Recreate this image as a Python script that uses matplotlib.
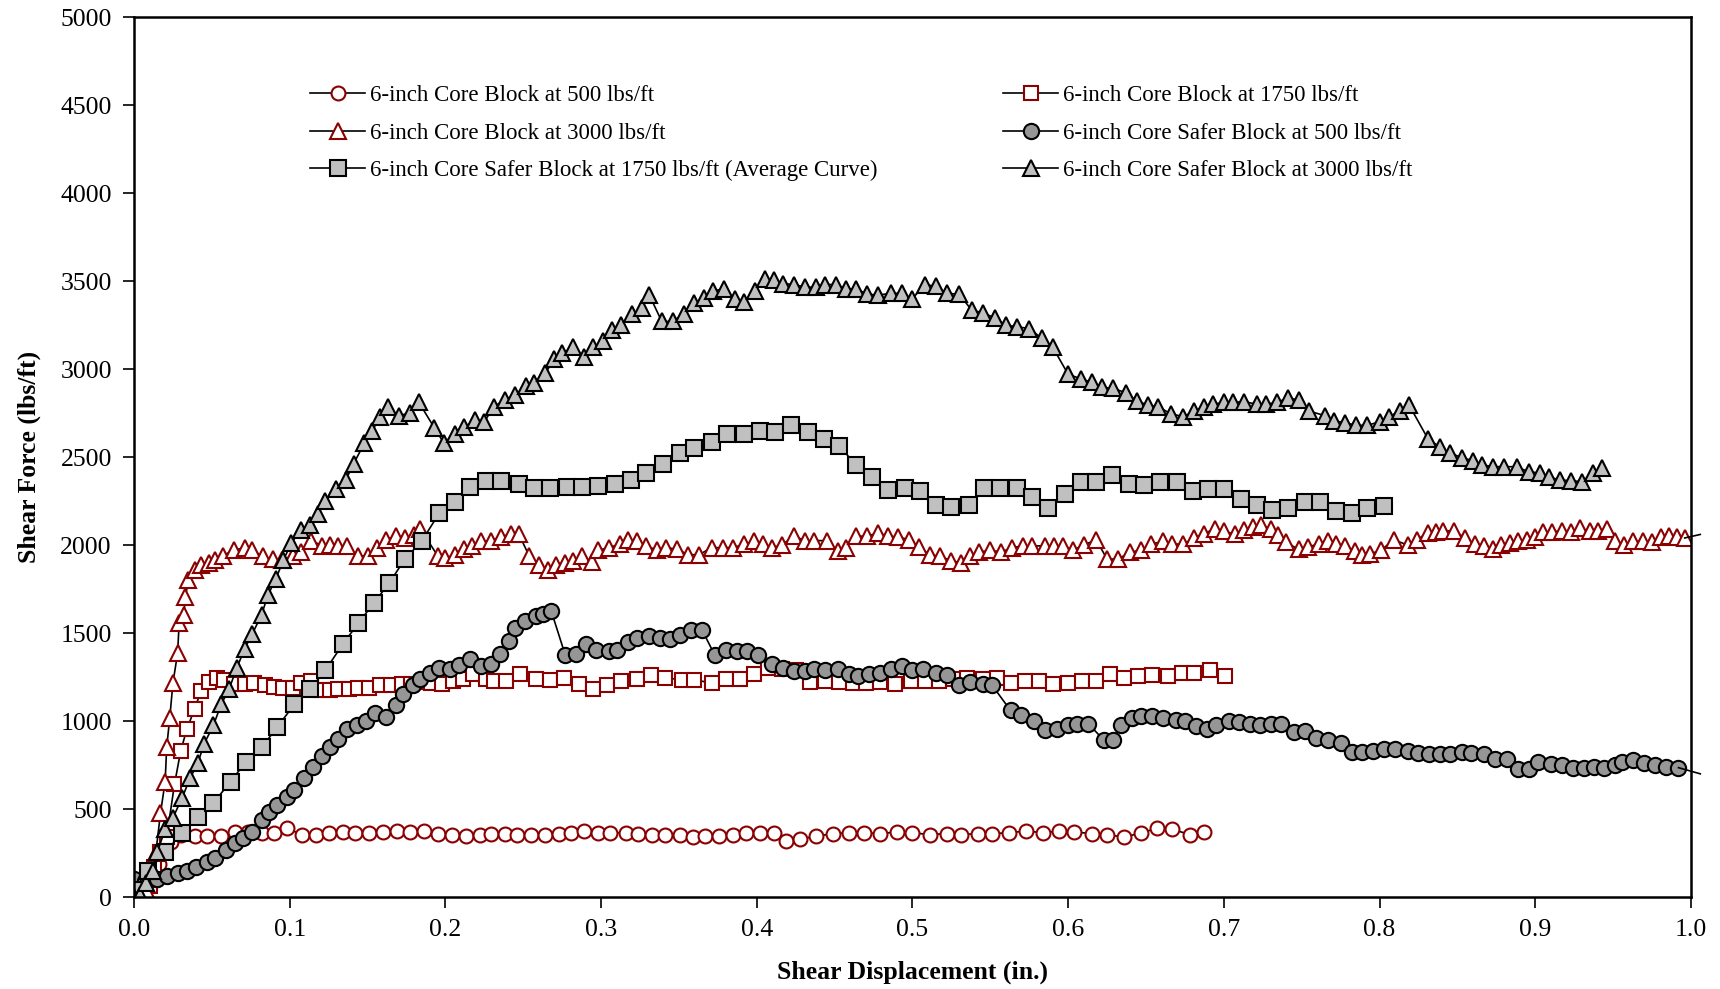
import matplotlib
matplotlib.use('Agg')
import matplotlib.pyplot as plt

plt.rcParams['font.family'] = ['Liberation Serif', 'DejaVu Serif']
plt.rcParams['font.size'] = 16.5

# 6-inch Core Block at 500 lbs/ft
core500_x = [0.000, 0.004, 0.008, 0.012, 0.016, 0.020, 0.024, 0.030, 0.039, 0.047, 0.056, 0.065, 0.073, 0.082,
             0.090, 0.098, 0.108, 0.117, 0.125, 0.134, 0.142, 0.151, 0.160, 0.169, 0.177, 0.186, 0.195, 0.204,
             0.213, 0.222, 0.229, 0.238, 0.246, 0.255, 0.264, 0.273, 0.281, 0.289, 0.298, 0.306, 0.316, 0.324,
             0.333, 0.341, 0.351, 0.359, 0.367, 0.376, 0.385, 0.393, 0.402, 0.411, 0.419, 0.428, 0.438, 0.449,
             0.459, 0.469, 0.479, 0.490, 0.500, 0.511, 0.522, 0.531, 0.542, 0.551, 0.562, 0.573, 0.584, 0.594,
             0.604, 0.615, 0.625, 0.636, 0.647, 0.657, 0.667, 0.678, 0.687]
core500_y = [0, 15, 50, 110, 190, 260, 310, 350, 345, 345, 345, 370, 370, 365,
             365, 390, 355, 355, 365, 370, 365, 365, 370, 375, 370, 375, 360, 355,
             345, 355, 360, 360, 355, 355, 355, 360, 365, 375, 365, 365, 365, 360,
             355, 355, 355, 340, 345, 345, 355, 365, 365, 365, 320, 330, 345, 360,
             365, 365, 360, 370, 365, 355, 360, 355, 360, 360, 365, 375, 365, 375,
             370, 360, 355, 340, 365, 390, 385, 355, 370]

# 6-inch Core Block at 1750 lbs/ft
core1750_x = [0.000, 0.005, 0.010, 0.013, 0.017, 0.021, 0.026, 0.030, 0.034, 0.039, 0.043, 0.048, 0.053, 0.058,
              0.064, 0.071, 0.077, 0.084, 0.090, 0.096, 0.102, 0.107, 0.114, 0.120, 0.126, 0.131, 0.138, 0.144,
              0.151, 0.158, 0.165, 0.172, 0.178, 0.185, 0.191, 0.198, 0.205, 0.211, 0.218, 0.226, 0.231, 0.239,
              0.248, 0.258, 0.267, 0.276, 0.286, 0.295, 0.304, 0.313, 0.323, 0.332, 0.341, 0.352, 0.360, 0.371,
              0.380, 0.389, 0.398, 0.407, 0.416, 0.425, 0.434, 0.444, 0.453, 0.462, 0.470, 0.479, 0.489, 0.499,
              0.508, 0.517, 0.526, 0.535, 0.545, 0.554, 0.563, 0.572, 0.581, 0.590, 0.600, 0.609, 0.618, 0.627,
              0.636, 0.645, 0.654, 0.664, 0.673, 0.681, 0.691, 0.701]
core1750_y = [0, 20, 60, 170, 255, 340, 640, 830, 955, 1070, 1170, 1220, 1245, 1235,
              1210, 1210, 1215, 1205, 1195, 1185, 1185, 1215, 1230, 1175, 1175, 1180, 1180, 1190,
              1190, 1205, 1205, 1210, 1210, 1220, 1215, 1210, 1230, 1240, 1265, 1240, 1230, 1230,
              1265, 1240, 1235, 1245, 1210, 1180, 1205, 1230, 1240, 1260, 1245, 1235, 1235, 1215,
              1240, 1240, 1265, 1300, 1295, 1290, 1220, 1230, 1220, 1215, 1215, 1220, 1210, 1230,
              1230, 1230, 1240, 1245, 1240, 1245, 1215, 1230, 1230, 1210, 1215, 1230, 1230, 1265,
              1245, 1255, 1260, 1255, 1270, 1275, 1290, 1255]

# 6-inch Core Block at 3000 lbs/ft
core3000_x = [0.000, 0.004, 0.008, 0.011, 0.014, 0.017, 0.020, 0.021, 0.023, 0.025, 0.028, 0.029, 0.032, 0.033,
              0.035, 0.039, 0.043, 0.048, 0.052, 0.057, 0.064, 0.071, 0.076, 0.083, 0.089, 0.095, 0.102, 0.107,
              0.114, 0.121, 0.126, 0.131, 0.137, 0.144, 0.150, 0.156, 0.162, 0.168, 0.174, 0.180, 0.184, 0.195,
              0.200, 0.206, 0.212, 0.217, 0.223, 0.229, 0.236, 0.242, 0.247, 0.254, 0.260, 0.266, 0.271, 0.277,
              0.282, 0.288, 0.294, 0.298, 0.305, 0.312, 0.317, 0.323, 0.329, 0.336, 0.342, 0.349, 0.356, 0.363,
              0.371, 0.378, 0.385, 0.392, 0.398, 0.404, 0.410, 0.416, 0.424, 0.431, 0.437, 0.445, 0.452, 0.457,
              0.464, 0.471, 0.478, 0.484, 0.491, 0.498, 0.504, 0.511, 0.518, 0.525, 0.531, 0.537, 0.543, 0.550,
              0.557, 0.564, 0.571, 0.577, 0.585, 0.591, 0.597, 0.603, 0.610, 0.618, 0.625, 0.632, 0.640, 0.647,
              0.653, 0.661, 0.667, 0.674, 0.681, 0.687, 0.694, 0.700, 0.707, 0.713, 0.719, 0.724, 0.730, 0.735,
              0.740, 0.748, 0.754, 0.761, 0.767, 0.772, 0.778, 0.784, 0.789, 0.794, 0.801, 0.809, 0.818, 0.824,
              0.831, 0.836, 0.841, 0.848, 0.855, 0.861, 0.867, 0.873, 0.878, 0.884, 0.889, 0.895, 0.900, 0.905,
              0.911, 0.917, 0.923, 0.929, 0.935, 0.940, 0.946, 0.951, 0.957, 0.963, 0.969, 0.975, 0.981, 0.986,
              0.991, 0.996]
core3000_y = [0, 15, 40, 100, 250, 475, 655, 850, 1020, 1215, 1385, 1555, 1605, 1705,
              1800, 1860, 1885, 1900, 1915, 1940, 1970, 1985, 1970, 1935, 1920, 1915, 1940, 1960,
              2025, 1995, 2000, 1995, 1995, 1935, 1940, 1985, 2030, 2050, 2040, 2055, 2090, 1940,
              1925, 1945, 1975, 1995, 2020, 2025, 2045, 2065, 2065, 1935, 1885, 1860, 1885, 1900,
              1910, 1935, 1905, 1970, 1985, 2005, 2030, 2020, 1995, 1970, 1985, 1975, 1945, 1945,
              1985, 1985, 1985, 2005, 2020, 2005, 1985, 2000, 2050, 2025, 2025, 2025, 1965, 1985,
              2050, 2050, 2070, 2050, 2045, 2030, 1990, 1945, 1935, 1910, 1900, 1935, 1960, 1970,
              1960, 1985, 1995, 1995, 1995, 1995, 1995, 1970, 2000, 2030, 1920, 1920, 1960, 1970,
              2005, 2020, 2005, 2005, 2040, 2065, 2090, 2080, 2060, 2085, 2105, 2115, 2090, 2055,
              2015, 1975, 1990, 2005, 2020, 2005, 1995, 1965, 1945, 1950, 1970, 2030, 2000, 2030,
              2070, 2075, 2080, 2080, 2040, 2005, 1995, 1975, 2000, 2010, 2020, 2030, 2045, 2075,
              2075, 2080, 2075, 2095, 2080, 2080, 2090, 2020, 2000, 2020, 2020, 2015, 2045, 2050,
              2045, 2040]
core3000_next = (1.006, 2060)

# 6-inch Core Safer Block at 500 lbs/ft
safer500_x = [0.000, 0.007, 0.015, 0.021, 0.028, 0.034, 0.040, 0.047, 0.052, 0.059, 0.065, 0.070, 0.076, 0.082,
              0.087, 0.092, 0.098, 0.103, 0.109, 0.115, 0.121, 0.126, 0.131, 0.137, 0.143, 0.149, 0.155, 0.162,
              0.168, 0.173, 0.179, 0.184, 0.190, 0.196, 0.203, 0.209, 0.216, 0.223, 0.229, 0.235, 0.241, 0.245,
              0.251, 0.258, 0.263, 0.268, 0.277, 0.284, 0.290, 0.297, 0.305, 0.310, 0.317, 0.323, 0.331, 0.338,
              0.344, 0.351, 0.358, 0.365, 0.373, 0.380, 0.387, 0.394, 0.401, 0.410, 0.417, 0.424, 0.431, 0.437,
              0.444, 0.452, 0.459, 0.465, 0.472, 0.479, 0.486, 0.493, 0.500, 0.507, 0.515, 0.522, 0.530, 0.537,
              0.545, 0.551, 0.563, 0.570, 0.578, 0.585, 0.593, 0.600, 0.606, 0.613, 0.623, 0.629, 0.634, 0.641,
              0.647, 0.654, 0.661, 0.669, 0.675, 0.682, 0.689, 0.695, 0.703, 0.710, 0.717, 0.723, 0.730, 0.737,
              0.745, 0.752, 0.759, 0.767, 0.775, 0.782, 0.789, 0.796, 0.803, 0.810, 0.818, 0.825, 0.832, 0.839,
              0.845, 0.853, 0.859, 0.867, 0.874, 0.882, 0.889, 0.896, 0.902, 0.910, 0.917, 0.924, 0.931, 0.938,
              0.944, 0.951, 0.956, 0.963, 0.970, 0.977, 0.984, 0.992]
safer500_y = [105, 90, 100, 120, 135, 150, 170, 200, 220, 265, 305, 335, 370, 435,
              485, 525, 570, 610, 675, 740, 800, 850, 900, 955, 980, 1000, 1045, 1025,
              1090, 1155, 1205, 1240, 1275, 1300, 1295, 1320, 1350, 1310, 1325, 1380, 1455, 1530,
              1570, 1595, 1610, 1625, 1375, 1380, 1435, 1405, 1400, 1405, 1450, 1470, 1485, 1470,
              1465, 1490, 1515, 1515, 1375, 1405, 1400, 1400, 1375, 1325, 1300, 1285, 1285, 1295,
              1290, 1295, 1265, 1255, 1265, 1270, 1295, 1315, 1290, 1295, 1275, 1260, 1205, 1220,
              1210, 1205, 1060, 1035, 1000, 950, 955, 975, 985, 985, 890, 890, 980, 1020,
              1030, 1030, 1020, 1005, 1000, 970, 955, 980, 1000, 995, 985, 975, 985, 985,
              935, 945, 905, 895, 875, 825, 825, 830, 840, 840, 830, 820, 815, 810,
              815, 825, 820, 810, 785, 785, 725, 730, 770, 755, 750, 735, 735, 740,
              735, 750, 765, 780, 760, 750, 740, 735]
safer500_next = (1.006, 700)

# 6-inch Core Safer Block at 1750 lbs/ft (Average Curve)
safer1750_x = [0.000, 0.009, 0.020, 0.031, 0.041, 0.051, 0.062, 0.072, 0.082, 0.092, 0.103, 0.113, 0.123, 0.134,
               0.144, 0.154, 0.164, 0.174, 0.185, 0.196, 0.206, 0.216, 0.226, 0.236, 0.247, 0.257, 0.267, 0.278,
               0.288, 0.298, 0.309, 0.319, 0.329, 0.340, 0.351, 0.360, 0.371, 0.381, 0.392, 0.402, 0.412, 0.422,
               0.433, 0.443, 0.453, 0.464, 0.474, 0.484, 0.495, 0.505, 0.515, 0.525, 0.536, 0.546, 0.556, 0.567,
               0.577, 0.587, 0.598, 0.608, 0.618, 0.628, 0.639, 0.649, 0.659, 0.670, 0.680, 0.690, 0.700, 0.711,
               0.721, 0.731, 0.741, 0.752, 0.762, 0.772, 0.782, 0.792, 0.803]
safer1750_y = [40, 150, 255, 365, 455, 535, 655, 770, 850, 965, 1095, 1180, 1290, 1435,
               1555, 1670, 1785, 1920, 2025, 2180, 2245, 2330, 2365, 2365, 2345, 2325, 2325, 2330,
               2330, 2335, 2345, 2370, 2410, 2460, 2520, 2550, 2585, 2630, 2630, 2650, 2640, 2680,
               2640, 2605, 2560, 2455, 2385, 2310, 2325, 2305, 2230, 2215, 2230, 2325, 2325, 2325,
               2275, 2210, 2290, 2360, 2360, 2395, 2345, 2340, 2360, 2360, 2305, 2320, 2320, 2260,
               2225, 2200, 2210, 2245, 2245, 2195, 2180, 2210, 2220]

# 6-inch Core Safer Block at 3000 lbs/ft
safer3000_x = [0.000, 0.004, 0.008, 0.012, 0.015, 0.020, 0.025, 0.031, 0.036, 0.041, 0.045, 0.051, 0.056, 0.061,
               0.066, 0.071, 0.076, 0.082, 0.086, 0.091, 0.096, 0.101, 0.107, 0.113, 0.118, 0.123, 0.130, 0.136,
               0.141, 0.148, 0.153, 0.158, 0.163, 0.170, 0.177, 0.183, 0.193, 0.199, 0.206, 0.212, 0.219, 0.225,
               0.231, 0.238, 0.245, 0.252, 0.257, 0.264, 0.270, 0.275, 0.282, 0.289, 0.295, 0.301, 0.307, 0.313,
               0.320, 0.326, 0.331, 0.339, 0.346, 0.353, 0.360, 0.366, 0.372, 0.379, 0.386, 0.392, 0.399, 0.405,
               0.411, 0.417, 0.424, 0.431, 0.438, 0.444, 0.451, 0.457, 0.464, 0.471, 0.478, 0.486, 0.493, 0.500,
               0.508, 0.515, 0.522, 0.530, 0.538, 0.545, 0.553, 0.560, 0.567, 0.575, 0.583, 0.590, 0.600, 0.608,
               0.615, 0.622, 0.629, 0.637, 0.644, 0.651, 0.658, 0.666, 0.674, 0.681, 0.687, 0.693, 0.700, 0.706,
               0.713, 0.721, 0.727, 0.734, 0.741, 0.748, 0.755, 0.765, 0.771, 0.778, 0.785, 0.792, 0.800, 0.806,
               0.813, 0.819, 0.831, 0.839, 0.845, 0.853, 0.860, 0.866, 0.873, 0.880, 0.888, 0.896, 0.903, 0.909,
               0.916, 0.923, 0.930, 0.937, 0.943]
safer3000_y = [0, 10, 80, 150, 255, 385, 450, 565, 675, 760, 870, 975, 1095, 1180,
               1300, 1410, 1495, 1605, 1715, 1805, 1915, 2010, 2085, 2115, 2175, 2250, 2320, 2370,
               2460, 2580, 2650, 2725, 2785, 2735, 2750, 2810, 2665, 2580, 2630, 2670, 2710, 2700,
               2785, 2825, 2855, 2905, 2920, 2975, 3055, 3090, 3125, 3070, 3125, 3160, 3220, 3250,
               3310, 3345, 3420, 3270, 3270, 3315, 3375, 3405, 3445, 3455, 3395, 3380, 3445, 3510,
               3505, 3485, 3480, 3465, 3465, 3480, 3480, 3455, 3455, 3425, 3420, 3430, 3430, 3400,
               3480, 3470, 3430, 3425, 3335, 3320, 3290, 3250, 3240, 3230, 3175, 3125, 2970, 2945,
               2925, 2895, 2890, 2865, 2820, 2795, 2785, 2745, 2730, 2760, 2785, 2800, 2810, 2810,
               2815, 2800, 2800, 2810, 2835, 2825, 2760, 2735, 2705, 2695, 2680, 2680, 2700, 2730,
               2760, 2795, 2605, 2555, 2525, 2495, 2480, 2455, 2445, 2445, 2445, 2415, 2410, 2385,
               2370, 2365, 2360, 2410, 2435]

red = '#8B0000'
fig = plt.figure(figsize=(17.2, 9.89), dpi=100)
ax = fig.add_axes([0.0779, 0.093, 0.9052, 0.8898])

ax.plot(core500_x, core500_y, color='black', lw=1.2, marker='o', ms=10, mfc='white', mec=red, mew=1.5,
        label='6-inch Core Block at 500 lbs/ft')
ax.plot(core1750_x, core1750_y, color='black', lw=1.2, marker='s', ms=10, mfc='white', mec=red, mew=1.5,
        label='6-inch Core Block at 1750 lbs/ft')
ax.plot(core3000_x, core3000_y, color='black', lw=1.2, marker='^', ms=11, mfc='white', mec=red, mew=1.5,
        label='6-inch Core Block at 3000 lbs/ft')
ax.plot(safer500_x, safer500_y, color='black', lw=1.2, marker='o', ms=11, mfc='#969696', mec='black', mew=1.5,
        label='6-inch Core Safer Block at 500 lbs/ft')
ax.plot(safer1750_x, safer1750_y, color='black', lw=1.2, marker='s', ms=11, mfc='#C0C0C0', mec='black', mew=1.5,
        label='6-inch Core Safer Block at 1750 lbs/ft (Average Curve)')
ax.plot(safer3000_x, safer3000_y, color='black', lw=1.2, marker='^', ms=12, mfc='#C0C0C0', mec='black', mew=1.5,
        label='6-inch Core Safer Block at 3000 lbs/ft')

# lines running on past the right edge
ax.plot([core3000_x[-1], core3000_next[0]], [core3000_y[-1], core3000_next[1]], color='black', lw=1.2, clip_on=False)
ax.plot([safer500_x[-1], safer500_next[0]], [safer500_y[-1], safer500_next[1]], color='black', lw=1.2, clip_on=False)

ax.set_xlim(0, 1.0)
ax.set_ylim(0, 5000)
ax.set_xticks([0.0, 0.1, 0.2, 0.3, 0.4, 0.5, 0.6, 0.7, 0.8, 0.9, 1.0])
ax.set_xticklabels(['0.0', '0.1', '0.2', '0.3', '0.4', '0.5', '0.6', '0.7', '0.8', '0.9', '1.0'])
ax.set_yticks(range(0, 5001, 500))
ax.tick_params(direction='out', length=8, width=1.2, labelsize=18.5, pad=8)
for s in ax.spines.values():
    s.set_linewidth(1.8)

ax.set_xlabel('Shear Displacement (in.)', fontweight='bold', fontsize=18.5, labelpad=14)
ax.set_ylabel('Shear Force (lbs/ft)', fontweight='bold', fontsize=18.5, labelpad=14)

h, l = ax.get_legend_handles_labels()
order = [0, 2, 4, 1, 3, 5]
ax.legend([h[i] for i in order], [l[i] for i in order], ncol=2, frameon=False, fontsize=16.5,
          loc='upper left', bbox_to_anchor=(0.1, 0.946), handlelength=2.4, handletextpad=0.2,
          columnspacing=5.5, labelspacing=0.72)

plt.savefig('out.png', dpi=100)
plt.close()
